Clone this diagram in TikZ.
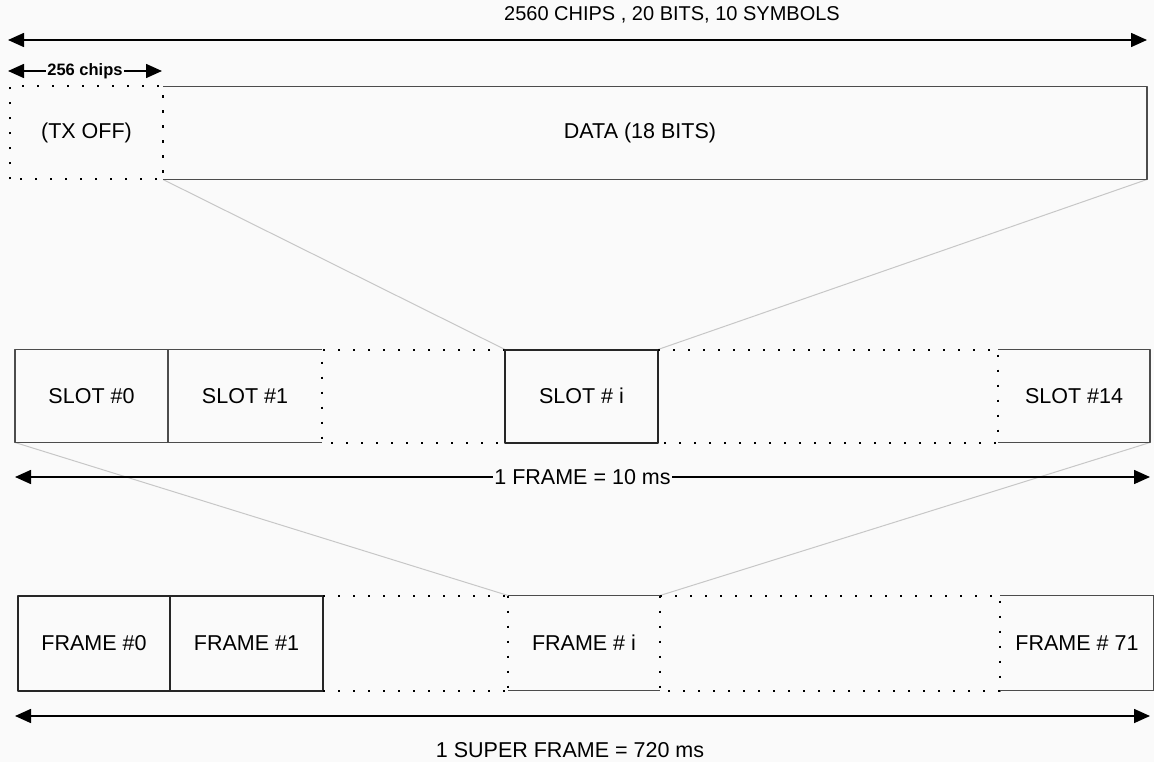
\documentclass[tikz,border=0pt]{standalone}
\usepackage{fontspec}
\setmainfont{Liberation Sans}
\usetikzlibrary{arrows.meta}
\definecolor{paper}{gray}{0.98}
\begin{document}
\begin{tikzpicture}[x=1pt,y=-1pt,line join=round,>={Triangle[length=16pt,width=14pt]}]
 			\tikzset{every node/.style={font=\fontsize{21.5}{24}\selectfont},
 				cell/.style={inner sep=0pt,outer sep=0pt,minimum height=93pt},
 				solidline/.style={draw=black!70,line width=1.2pt},
 				boldline/.style={draw=black!85,line width=2pt},
 				dotline/.style={draw=black,line width=2pt,dash pattern=on 2.2pt off 12.8pt},
 				zoomline/.style={draw=black!22,line width=1pt},
 				spanline/.style={<->,line width=1.6pt}}
 			\useasboundingbox[fill=paper] (0,0) rectangle (1154,762);
 			% top row: one slot
 			\node[cell,minimum width=153pt] (txoff) at (86.5,133) {(TX OFF)};
 			\node[cell,minimum width=984pt] (data) at (655,133) {DATA (18 BITS)\hspace*{30pt}};
 			% middle row: slots of one frame
 			\foreach \nm/\xc/\w/\txt in {slot0/91.5/153/{SLOT \#0},slot1/245/154/{SLOT \#1},gapA/413.5/183/{},sloti/581.5/153/{SLOT \# i},gapB/828/340/{},slot14/1074/152/{SLOT \#14}}
 			\node[cell,minimum width=\w pt] (\nm) at (\xc,396) {\txt};
 			% bottom row: frames of one super frame
 			\foreach \nm/\xc/\w/\txt in {frame0/94/152/{FRAME \#0},frame1/246.5/153/{FRAME \#1},gapC/415.5/185/{},framei/584/152/{FRAME \# i},gapD/830/340/{},frame71/1077/154/{FRAME \# 71}}
 			\node[cell,minimum width=\w pt,minimum height=95pt] (\nm) at (\xc,643) {\txt};
 			% zoom lines
 			\draw[zoomline] (data.south west)--(sloti.north west);
 			\draw[zoomline] (data.south east)--(sloti.north east);
 			\draw[zoomline] (slot0.south west)--(framei.north west);
 			\draw[zoomline] (slot14.south east)--(framei.north east);
 			% box outlines
 			\draw[dotline] (txoff.south west) rectangle (txoff.north east);
 			\draw[solidline] (data.north west)--(data.north east)--(data.south east)--(data.south west);
 			\draw[solidline] (slot1.north east)--(slot0.north west)--(slot0.south west)--(slot1.south east);
 			\draw[solidline] (slot0.north east)--(slot0.south east);
 			\draw[dotline] (gapA.north east)--(gapA.north west)--(gapA.south west)--(gapA.south east);
 			\draw[boldline] (sloti.south west) rectangle (sloti.north east);
 			\draw[dotline] (gapB.north west)--(gapB.north east)--(gapB.south east)--(gapB.south west);
 			\draw[solidline] (slot14.north west)--(slot14.north east)--(slot14.south east)--(slot14.south west);
 			\draw[boldline] (frame0.north west) rectangle (frame1.south east);
 			\draw[boldline] (frame0.north east)--(frame0.south east);
 			\draw[dotline] (gapC.north west)--(gapC.north east);
 			\draw[dotline] (gapC.south west)--(gapC.south east);
 			\draw[solidline] (framei.north west)--(framei.north east);
 			\draw[solidline] (framei.south west)--(framei.south east);
 			\draw[dotline] (framei.north west)--(framei.south west);
 			\draw[dotline] (framei.north east)--(framei.south east);
 			\draw[dotline] (gapD.north west)--(gapD.north east)--(gapD.south east)--(gapD.south west);
 			\draw[solidline] (frame71.north west)--(frame71.north east)--(frame71.south east)--(frame71.south west);
 			% spans
 			\coordinate (t1) at (8,40);
 			\coordinate (t2) at (1147,40);
 			\draw[spanline] (t1)--(t2);
 			\node[font=\fontsize{20}{22}\selectfont] (toplbl) at (672,15) {2560 CHIPS , 20 BITS, 10 SYMBOLS};
 			\coordinate (c1) at (8,71);
 			\coordinate (c2) at (162,71);
 			\draw[spanline] (c1)--node[fill=paper,inner sep=1pt,font=\fontsize{16.5}{18}\bfseries] (chiplbl) {256 chips} (c2);
 			\coordinate (f1) at (15,477);
 			\coordinate (f2) at (1150,477);
 			\draw[spanline] (f1)--node[fill=paper,inner sep=1pt] (framelbl) {1 FRAME = 10 ms} (f2);
 			\coordinate (s1) at (15,716);
 			\coordinate (s2) at (1150,716);
 			\draw[spanline] (s1)--(s2);
 			\node (superlbl) at (570,750) {1 SUPER FRAME = 720 ms};
 		\end{tikzpicture}
\end{document}
